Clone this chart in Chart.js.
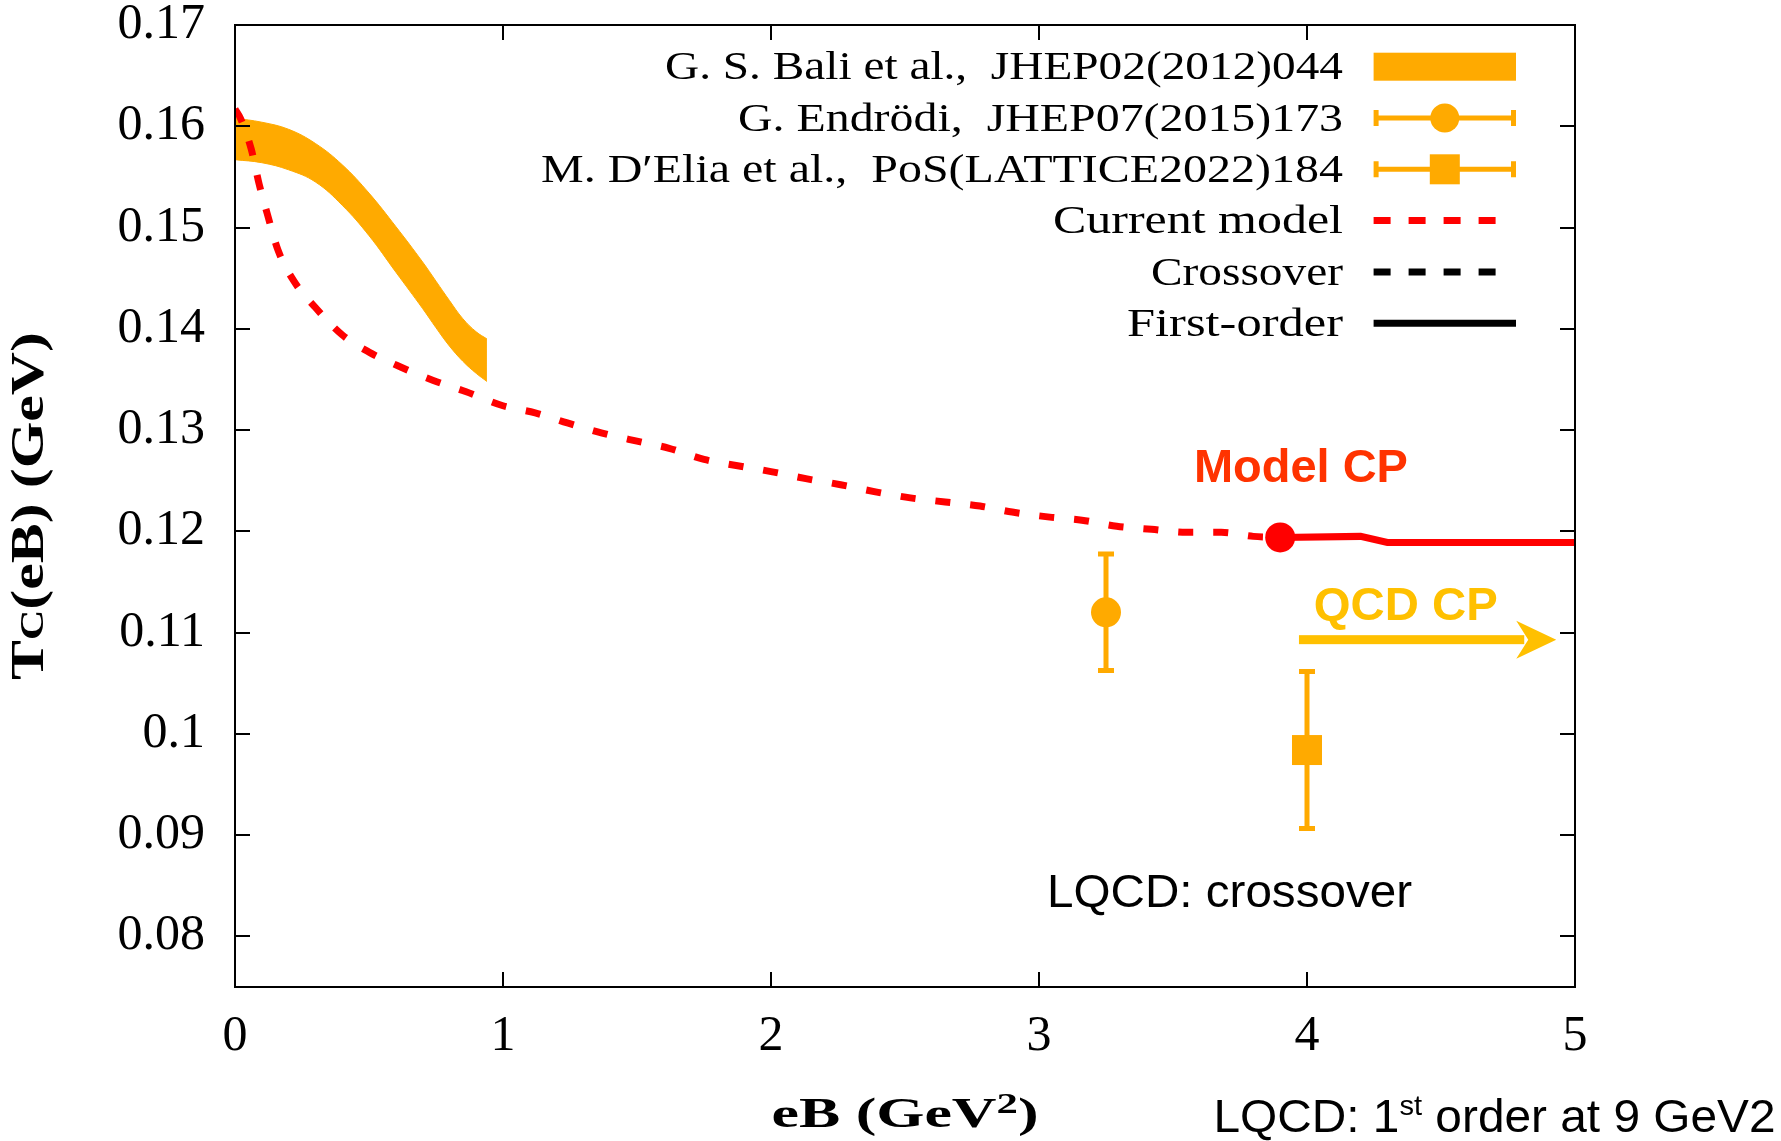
<!DOCTYPE html>
<html>
<head>
<meta charset="utf-8">
<title>Tc(eB)</title>
<script src="https://cdn.jsdelivr.net/npm/chart.js@4.4.1/dist/chart.umd.min.js"></script>
<style>
  html, body { margin: 0; padding: 0; background: #ffffff; }
  #wrap { width: 1781px; height: 1141px; position: relative; }
</style>
</head>
<body>
<div id="wrap"><canvas id="chart" width="1781" height="1141"></canvas></div>
<script>
// Pseudo-critical temperature as a function of the magnetic field eB

const xTickValues = [0, 1, 2, 3, 4, 5];
const xTickLabels = ['0', '1', '2', '3', '4', '5'];
const yTickValues = [0.08, 0.09, 0.10, 0.11, 0.12, 0.13, 0.14, 0.15, 0.16, 0.17];
const yTickLabels = ['0.08', '0.09', '0.1', '0.11', '0.12', '0.13', '0.14', '0.15', '0.16', '0.17'];

// G. S. Bali et al. band (upper / lower edge)
const baliEB    = [0, 0.1, 0.2, 0.3, 0.4, 0.5, 0.6, 0.7, 0.75, 0.8, 0.85, 0.9, 0.94];
const baliUpper = [0.1608, 0.1604, 0.1597, 0.1583, 0.1562, 0.1534, 0.1501, 0.1466, 0.1447, 0.1428, 0.1410, 0.1397, 0.1390];
const baliLower = [0.1567, 0.1564, 0.1557, 0.1545, 0.1522, 0.1492, 0.1456, 0.1420, 0.1401, 0.1383, 0.1368, 0.1356, 0.1348];

// G. Endrödi point
const endrodiEB  = [3.25];
const endrodiT   = [0.112];
const endrodiErr = [0.006];

// M. D'Elia et al. point
const deliaEB  = [4.0];
const deliaT   = [0.0984];
const deliaErr = [0.008];

// Current model: crossover branch
const crossEB = [0, 0.02, 0.06, 0.09, 0.12, 0.16, 0.22, 0.30, 0.40, 0.50, 0.62, 0.74, 0.86, 1.0, 1.12, 1.24,
                 1.37, 1.50, 1.62, 1.75, 1.87, 2.0, 2.13, 2.26, 2.39, 2.52, 2.65, 2.78, 2.90, 3.04, 3.16,
                 3.29, 3.42, 3.55, 3.68, 3.80, 3.90];
const crossT  = [0.1617, 0.1608, 0.1578, 0.1543, 0.1514, 0.1478, 0.1447, 0.1421, 0.1394, 0.1377, 0.1362, 0.1349,
                 0.1338, 0.1324, 0.1317, 0.1307, 0.1297, 0.1289, 0.1282, 0.1271, 0.1265, 0.1259, 0.1252, 0.1246,
                 0.1239, 0.1233, 0.1229, 0.1225, 0.1219, 0.1214, 0.1211, 0.1205, 0.1202, 0.1199, 0.1199, 0.1195, 0.1194];

// Current model: first-order branch
const firstEB = [3.90, 4.20, 4.30, 5.0];
const firstT  = [0.1194, 0.1195, 0.1189, 0.1189];

// Model critical point
const modelCpEB = [3.90];
const modelCpT  = [0.1194];

// QCD critical point arrow (eB range, temperature level)
const qcdArrowEB = [3.97, 4.93];
const qcdArrowT  = [0.1093];

const ORANGE = '#ffaa00';
const GOLD = '#ffc000';
const RED = '#ff0000';
const CP_RED = '#ff3300';
const SERIF = '"Liberation Serif", "Times New Roman", serif';
const SANS = '"Liberation Sans", Arial, sans-serif';

const pts = (xs, ys) => xs.map((x, i) => ({ x: x, y: ys[i] }));

// Draw a sequence of text runs, optionally stretched horizontally to a given width
function drawRuns(ctx, runs, x, y, width, align) {
  let total = 0;
  const ws = runs.map(r => { ctx.font = r.font; const w = ctx.measureText(r.text).width; total += w; return w; });
  const sx = width ? width / total : 1;
  ctx.save();
  ctx.translate(x, y);
  ctx.scale(sx, 1);
  let cx = align === 'right' ? -total : (align === 'center' ? -total / 2 : 0);
  ctx.textAlign = 'left';
  ctx.textBaseline = 'alphabetic';
  runs.forEach((r, i) => {
    ctx.font = r.font;
    ctx.fillStyle = r.color || '#000';
    ctx.fillText(r.text, cx, r.dy || 0);
    cx += ws[i];
  });
  ctx.restore();
}

function drawErrorGlyph(ctx, xc, yTop, yBot, color, lw, capHalf) {
  ctx.save();
  ctx.strokeStyle = color;
  ctx.lineWidth = lw;
  ctx.lineCap = 'butt';
  ctx.beginPath();
  ctx.moveTo(xc, yTop); ctx.lineTo(xc, yBot);
  ctx.moveTo(xc - capHalf, yTop + lw / 2); ctx.lineTo(xc + capHalf, yTop + lw / 2);
  ctx.moveTo(xc - capHalf, yBot - lw / 2); ctx.lineTo(xc + capHalf, yBot - lw / 2);
  ctx.stroke();
  ctx.restore();
}

// Error bars for datasets that carry them
const errorBarPlugin = {
  id: 'errorBars',
  beforeDatasetsDraw(chart) {
    const ctx = chart.ctx;
    const xs = chart.scales.x, ys = chart.scales.y;
    chart.data.datasets.forEach(ds => {
      if (!ds.errorBars) return;
      ds.data.forEach((p, i) => {
        const e = ds.errorBars[i];
        drawErrorGlyph(ctx, xs.getPixelForValue(p.x), ys.getPixelForValue(p.y + e),
                       ys.getPixelForValue(p.y - e), ds.pointBackgroundColor, 5, 8);
      });
    });
  }
};

// Closed frame with inward ticks on all four sides
const framePlugin = {
  id: 'frame',
  afterDatasetsDraw(chart) {
    const ctx = chart.ctx;
    const a = chart.chartArea;
    const xs = chart.scales.x, ys = chart.scales.y;
    const tl = 15;
    ctx.save();
    ctx.strokeStyle = '#000';
    ctx.lineWidth = 2;
    ctx.beginPath();
    xs.ticks.forEach(t => {
      const px = Math.round(xs.getPixelForValue(t.value));
      ctx.moveTo(px, a.bottom); ctx.lineTo(px, a.bottom - tl);
      ctx.moveTo(px, a.top); ctx.lineTo(px, a.top + tl);
    });
    ys.ticks.forEach(t => {
      const py = Math.round(ys.getPixelForValue(t.value));
      ctx.moveTo(a.left, py); ctx.lineTo(a.left + tl, py);
      ctx.moveTo(a.right, py); ctx.lineTo(a.right - tl, py);
    });
    ctx.stroke();
    ctx.strokeRect(a.left, a.top, a.right - a.left, a.bottom - a.top);
    ctx.restore();
  }
};

// Critical-point annotations
const annotationPlugin = {
  id: 'cpNotes',
  afterDatasetsDraw(chart) {
    const ctx = chart.ctx;
    const xs = chart.scales.x, ys = chart.scales.y;
    const a = chart.chartArea;

    // QCD CP arrow
    const x0 = xs.getPixelForValue(qcdArrowEB[0]);
    const x1 = xs.getPixelForValue(qcdArrowEB[1]);
    const yA = ys.getPixelForValue(qcdArrowT[0]);
    const headLen = 40, headHalf = 19;
    ctx.save();
    ctx.fillStyle = GOLD;
    ctx.fillRect(x0, yA - 4.5, (x1 - headLen + 8) - x0, 9);
    ctx.beginPath();
    ctx.moveTo(x1, yA);
    ctx.lineTo(x1 - headLen, yA - headHalf);
    ctx.lineTo(x1 - headLen + 12, yA);
    ctx.lineTo(x1 - headLen, yA + headHalf);
    ctx.closePath();
    ctx.fill();
    ctx.restore();

    drawRuns(ctx, [{ text: 'Model CP', font: 'bold 46px ' + SANS, color: CP_RED }],
             xs.getPixelForValue(3.578), ys.getPixelForValue(0.1249), 214, 'left');
    drawRuns(ctx, [{ text: 'QCD CP', font: 'bold 46px ' + SANS, color: GOLD }],
             xs.getPixelForValue(4.025), ys.getPixelForValue(0.1112), 184, 'left');
    drawRuns(ctx, [{ text: 'LQCD: crossover', font: '47px ' + SANS, color: '#000' }],
             xs.getPixelForValue(3.03), ys.getPixelForValue(0.0829), 365, 'left');

    // Note below the frame
    drawRuns(ctx, [
      { text: 'LQCD: 1', font: '46px ' + SANS },
      { text: 'st', font: '28px ' + SANS, dy: -17 },
      { text: ' order at 9 GeV2', font: '46px ' + SANS }
    ], a.right - 361.5, a.bottom + 144.7, 562, 'left');
  }
};

// Axis titles
const titlePlugin = {
  id: 'axisTitles',
  afterDraw(chart) {
    const ctx = chart.ctx;
    const a = chart.chartArea;
    drawRuns(ctx, [
      { text: 'eB (GeV', font: 'bold 42px ' + SERIF },
      { text: '2', font: 'bold 29px ' + SERIF, dy: -13.4 },
      { text: ')', font: 'bold 42px ' + SERIF }
    ], (a.left + a.right) / 2, a.bottom + 139.7, 267, 'center');

    ctx.save();
    ctx.translate(43, (a.top + a.bottom) / 2);
    ctx.rotate(-Math.PI / 2);
    drawRuns(ctx, [
      { text: 'T', font: 'bold 47px ' + SERIF },
      { text: 'C', font: 'bold 33px ' + SERIF },
      { text: '(eB) (GeV)', font: 'bold 47px ' + SERIF }
    ], 0, 0, 348, 'center');
    ctx.restore();
  }
};

// Key in the upper right corner: text on the left, sample on the right
const keyPlugin = {
  id: 'key',
  afterDraw(chart) {
    const ctx = chart.ctx;
    const a = chart.chartArea;
    const textRight = a.right - 232;
    const sx0 = a.right - 201.4, sx1 = a.right - 59;
    const sxc = (sx0 + sx1) / 2;
    const widths = [678, 605, 802, 290, 192, 216];
    const entries = chart.data.datasets.filter(d => d.label && !d.keyHidden);
    entries.forEach((ds, i) => {
      const ry = a.top + 41.7 + i * 51.3;
      drawRuns(ctx, [{ text: ds.label, font: '41px ' + SERIF }], textRight, ry + 12.6, widths[i], 'right');
      ctx.save();
      if (ds.fill) {
        ctx.fillStyle = ds.backgroundColor;
        ctx.fillRect(sx0, ry - 14, sx1 - sx0, 28);
      } else if (ds.errorBars) {
        ctx.strokeStyle = ds.pointBackgroundColor;
        ctx.lineWidth = 5;
        ctx.beginPath();
        ctx.moveTo(sx0, ry); ctx.lineTo(sx1, ry);
        ctx.moveTo(sx0 + 2.5, ry - 8); ctx.lineTo(sx0 + 2.5, ry + 8);
        ctx.moveTo(sx1 - 2.5, ry - 8); ctx.lineTo(sx1 - 2.5, ry + 8);
        ctx.stroke();
        ctx.fillStyle = ds.pointBackgroundColor;
        if (ds.pointStyle === 'rect') {
          ctx.fillRect(sxc - 15, ry - 15, 30, 30);
        } else {
          ctx.beginPath();
          ctx.arc(sxc, ry, 14.5, 0, Math.PI * 2);
          ctx.fill();
        }
      } else {
        ctx.strokeStyle = ds.borderColor;
        ctx.lineWidth = 7;
        ctx.setLineDash(ds.borderDash && ds.borderDash.length ? [17, 18] : []);
        ctx.beginPath();
        ctx.moveTo(sx0, ry);
        ctx.lineTo(ds.borderDash && ds.borderDash.length ? sx0 + 122 : sx1, ry);
        ctx.stroke();
      }
      ctx.restore();
    });
  }
};

const chart = new Chart(document.getElementById('chart'), {
  type: 'line',
  data: {
    datasets: [
      {
        label: 'G. S. Bali et al.,  JHEP02(2012)044',
        data: pts(baliEB, baliUpper),
        borderColor: ORANGE, backgroundColor: ORANGE, borderWidth: 1,
        pointRadius: 0, fill: '+1', tension: 0.4, order: 5
      },
      {
        data: pts(baliEB, baliLower),
        borderColor: ORANGE, backgroundColor: ORANGE, borderWidth: 1,
        pointRadius: 0, fill: false, tension: 0.4, order: 5
      },
      {
        label: 'G. Endrödi,  JHEP07(2015)173',
        data: pts(endrodiEB, endrodiT), errorBars: endrodiErr,
        showLine: false, pointStyle: 'circle', pointRadius: 15,
        pointBackgroundColor: ORANGE, pointBorderWidth: 0, order: 0
      },
      {
        label: 'M. D\u2032Elia et al.,  PoS(LATTICE2022)184',
        data: pts(deliaEB, deliaT), errorBars: deliaErr,
        showLine: false, pointStyle: 'rect', pointRadius: 21.2,
        pointBackgroundColor: ORANGE, pointBorderWidth: 0, order: 0
      },
      {
        label: 'Current model',
        data: pts(crossEB, crossT),
        borderColor: RED, borderWidth: 7, borderDash: [15, 20],
        pointRadius: 0, fill: false, cubicInterpolationMode: 'monotone', order: 1
      },
      {
        label: 'Crossover', data: [],
        borderColor: '#000000', borderWidth: 7, borderDash: [15, 20], pointRadius: 0, fill: false
      },
      {
        label: 'First-order', data: [],
        borderColor: '#000000', borderWidth: 8, pointRadius: 0, fill: false
      },
      {
        data: pts(firstEB, firstT),
        borderColor: RED, borderWidth: 7, pointRadius: 0, fill: false, tension: 0, order: 1
      },
      {
        data: pts(modelCpEB, modelCpT),
        showLine: false, pointStyle: 'circle', pointRadius: 15,
        pointBackgroundColor: RED, pointBorderWidth: 0, order: 0
      }
    ]
  },
  options: {
    responsive: false,
    animation: false,
    devicePixelRatio: 1,
    events: [],
    layout: { padding: { left: 0, right: 206, top: 25, bottom: 0 } },
    plugins: { legend: { display: false }, tooltip: { enabled: false } },
    scales: {
      x: {
        type: 'linear', min: 0, max: 5,
        afterBuildTicks: s => { s.ticks = xTickValues.map(v => ({ value: v })); },
        afterFit: s => { s.height = 154; s.paddingLeft = 0; s.paddingRight = 0; },
        ticks: {
          callback: (v, i) => xTickLabels[i],
          font: { family: SERIF, size: 50 }, color: '#000',
          padding: 20, maxRotation: 0, autoSkip: false
        },
        grid: { display: false, drawTicks: false },
        border: { display: false }
      },
      y: {
        type: 'linear', min: 0.075, max: 0.17,
        afterBuildTicks: s => { s.ticks = yTickValues.map(v => ({ value: v })); },
        afterFit: s => { s.width = 235; s.paddingTop = 0; s.paddingBottom = 0; },
        ticks: {
          callback: (v, i) => yTickLabels[i],
          font: { family: SERIF, size: 50 }, color: '#000',
          padding: 30, autoSkip: false
        },
        grid: { display: false, drawTicks: false },
        border: { display: false }
      }
    }
  },
  plugins: [errorBarPlugin, framePlugin, annotationPlugin, titlePlugin, keyPlugin]
});
</script>
</body>
</html>
